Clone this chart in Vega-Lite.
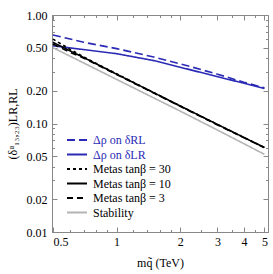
{
  "$schema": "https://vega.github.io/schema/vega-lite/v6.json",
  "width": 216,
  "height": 217,
  "autosize": {"type": "none"},
  "padding": {"left": 52, "top": 15, "right": 5, "bottom": 42},
  "config": {
    "font": "Liberation Serif",
    "view": {"stroke": "#888888", "strokeWidth": 1},
    "axis": {
      "domainColor": "#888888",
      "tickColor": "#888888",
      "labelFont": "Liberation Serif",
      "labelFontSize": 12,
      "labelColor": "black",
      "titleFont": "Liberation Serif",
      "titleFontWeight": "normal",
      "titleFontSize": 12,
      "titleColor": "black",
      "grid": false
    }
  },
  "data": {
    "values": [
      {"s": "Δρ on δRL", "m": 0.5, "v": 0.655},
      {"s": "Δρ on δRL", "m": 0.7, "v": 0.56},
      {"s": "Δρ on δRL", "m": 1, "v": 0.49},
      {"s": "Δρ on δRL", "m": 1.5, "v": 0.41},
      {"s": "Δρ on δRL", "m": 2, "v": 0.355},
      {"s": "Δρ on δRL", "m": 3, "v": 0.285},
      {"s": "Δρ on δRL", "m": 4, "v": 0.24},
      {"s": "Δρ on δRL", "m": 5, "v": 0.213},
      {"s": "Δρ on δLR", "m": 0.5, "v": 0.52},
      {"s": "Δρ on δLR", "m": 0.7, "v": 0.48},
      {"s": "Δρ on δLR", "m": 1, "v": 0.44},
      {"s": "Δρ on δLR", "m": 1.5, "v": 0.38},
      {"s": "Δρ on δLR", "m": 2, "v": 0.33},
      {"s": "Δρ on δLR", "m": 3, "v": 0.27},
      {"s": "Δρ on δLR", "m": 4, "v": 0.235},
      {"s": "Δρ on δLR", "m": 5, "v": 0.21},
      {"s": "Metas  tanβ = 30", "m": 0.5, "v": 0.6},
      {"s": "Metas  tanβ = 30", "m": 0.6, "v": 0.485},
      {"s": "Metas  tanβ = 30", "m": 0.7, "v": 0.41},
      {"s": "Metas  tanβ = 30", "m": 1, "v": 0.287},
      {"s": "Metas  tanβ = 30", "m": 2, "v": 0.145},
      {"s": "Metas  tanβ = 30", "m": 3, "v": 0.098},
      {"s": "Metas  tanβ = 30", "m": 5, "v": 0.06},
      {"s": "Metas  tanβ = 10", "m": 0.5, "v": 0.56},
      {"s": "Metas  tanβ = 10", "m": 0.6, "v": 0.469},
      {"s": "Metas  tanβ = 10", "m": 0.7, "v": 0.405},
      {"s": "Metas  tanβ = 10", "m": 1, "v": 0.285},
      {"s": "Metas  tanβ = 10", "m": 2, "v": 0.145},
      {"s": "Metas  tanβ = 10", "m": 3, "v": 0.098},
      {"s": "Metas  tanβ = 10", "m": 5, "v": 0.06},
      {"s": "Metas  tanβ = 3", "m": 0.5, "v": 0.54},
      {"s": "Metas  tanβ = 3", "m": 0.6, "v": 0.455},
      {"s": "Metas  tanβ = 3", "m": 0.7, "v": 0.4},
      {"s": "Metas  tanβ = 3", "m": 1, "v": 0.283},
      {"s": "Metas  tanβ = 3", "m": 2, "v": 0.144},
      {"s": "Metas  tanβ = 3", "m": 3, "v": 0.097},
      {"s": "Metas  tanβ = 3", "m": 5, "v": 0.06},
      {"s": "Stability", "m": 0.5, "v": 0.5},
      {"s": "Stability", "m": 1, "v": 0.255},
      {"s": "Stability", "m": 2, "v": 0.13},
      {"s": "Stability", "m": 3, "v": 0.087},
      {"s": "Stability", "m": 5, "v": 0.052}
    ]
  },
  "layer": [
    {
      "mark": {"type": "line", "strokeWidth": 1.6, "clip": true},
      "encoding": {
        "x": {
          "field": "m", "type": "quantitative",
          "scale": {"type": "log", "domain": [0.495, 5.2], "nice": false},
          "axis": {
            "title": "mq̃  (TeV)",
            "values": [0.5, 0.6, 0.7, 0.8, 0.9, 1, 1.2, 1.4, 1.6, 1.8, 2, 2.5, 3, 3.5, 4, 4.5, 5],
            "labelExpr": "indexof([0.5,1,2,3,4,5], datum.value) >= 0 ? (datum.value == 0.5 ? '0.5' : format(datum.value, 'd')) : ''",
            "tickSize": {"condition": {"test": "indexof([0.5,1,2,3,4,5], datum.value) >= 0", "value": -5}, "value": -2.5},
            "labelPadding": 9,
            "titlePadding": 10
          }
        },
        "y": {
          "field": "v", "type": "quantitative",
          "scale": {"type": "log", "domain": [0.01, 1], "nice": false},
          "axis": {
            "title": "(δᵘ₁₃,₂₃)LR,RL",
            "values": [0.01, 0.02, 0.03, 0.04, 0.05, 0.06, 0.07, 0.08, 0.09, 0.1, 0.2, 0.3, 0.4, 0.5, 0.6, 0.7, 0.8, 0.9, 1],
            "labelExpr": "indexof([0.01,0.02,0.05,0.1,0.2,0.5,1], datum.value) >= 0 ? format(datum.value, '.2f') : ''",
            "tickSize": {"condition": {"test": "indexof([0.01,0.02,0.05,0.1,0.2,0.5,1], datum.value) >= 0", "value": -5}, "value": -2.5},
            "labelPadding": 10,
            "titlePadding": 7
          }
        },
        "color": {
          "field": "s", "type": "nominal",
          "scale": {
            "domain": ["Δρ on δRL", "Δρ on δLR", "Metas  tanβ = 30", "Metas  tanβ = 10", "Metas  tanβ = 3", "Stability"],
            "range": ["#2a2ab5", "#2a2ab5", "#000000", "#000000", "#000000", "#b4b4b4"]
          },
          "legend": {
            "orient": "none", "legendX": 19, "legendY": 119, "title": null,
            "symbolType": "M-2,0H2", "symbolSize": 100, "symbolStrokeWidth": 1.8,
            "labelFont": "Liberation Serif", "labelFontSize": 12, "labelOffset": 10, "rowPadding": 2.5,
            "encode": {"labels": {"update": {"fill": {"signal": "indexof(datum.label, 'Δρ') === 0 ? '#2a2ab5' : 'black'"}}}}
          }
        },
        "strokeDash": {
          "field": "s", "type": "nominal",
          "scale": {
            "domain": ["Δρ on δRL", "Δρ on δLR", "Metas  tanβ = 30", "Metas  tanβ = 10", "Metas  tanβ = 3", "Stability"],
            "range": [[8, 4], [1, 0], [3, 3], [1, 0], [6, 4], [1, 0]]
          },
          "legend": {
            "orient": "none", "legendX": 19, "legendY": 119, "title": null,
            "symbolType": "M-2,0H2", "symbolSize": 100, "symbolStrokeWidth": 1.8,
            "labelFont": "Liberation Serif", "labelFontSize": 12, "labelOffset": 10, "rowPadding": 2.5,
            "encode": {"labels": {"update": {"fill": {"signal": "indexof(datum.label, 'Δρ') === 0 ? '#2a2ab5' : 'black'"}}}}
          }
        }
      }
    },
    {
      "mark": {"type": "line", "opacity": 0},
      "encoding": {
        "x": {
          "field": "m", "type": "quantitative",
          "axis": {
            "orient": "top", "title": null, "labels": false, "domain": false,
            "values": [0.5, 0.6, 0.7, 0.8, 0.9, 1, 1.2, 1.4, 1.6, 1.8, 2, 2.5, 3, 3.5, 4, 4.5, 5],
            "tickSize": {"condition": {"test": "indexof([0.5,1,2,3,4,5], datum.value) >= 0", "value": -5}, "value": -2.5}
          }
        },
        "y": {
          "field": "v", "type": "quantitative",
          "axis": {
            "orient": "right", "title": null, "labels": false, "domain": false,
            "values": [0.01, 0.02, 0.03, 0.04, 0.05, 0.06, 0.07, 0.08, 0.09, 0.1, 0.2, 0.3, 0.4, 0.5, 0.6, 0.7, 0.8, 0.9, 1],
            "tickSize": {"condition": {"test": "indexof([0.01,0.02,0.05,0.1,0.2,0.5,1], datum.value) >= 0", "value": -5}, "value": -2.5}
          }
        },
        "detail": {"field": "s"}
      }
    }
  ],
  "resolve": {"axis": {"x": "independent", "y": "independent"}}
}
